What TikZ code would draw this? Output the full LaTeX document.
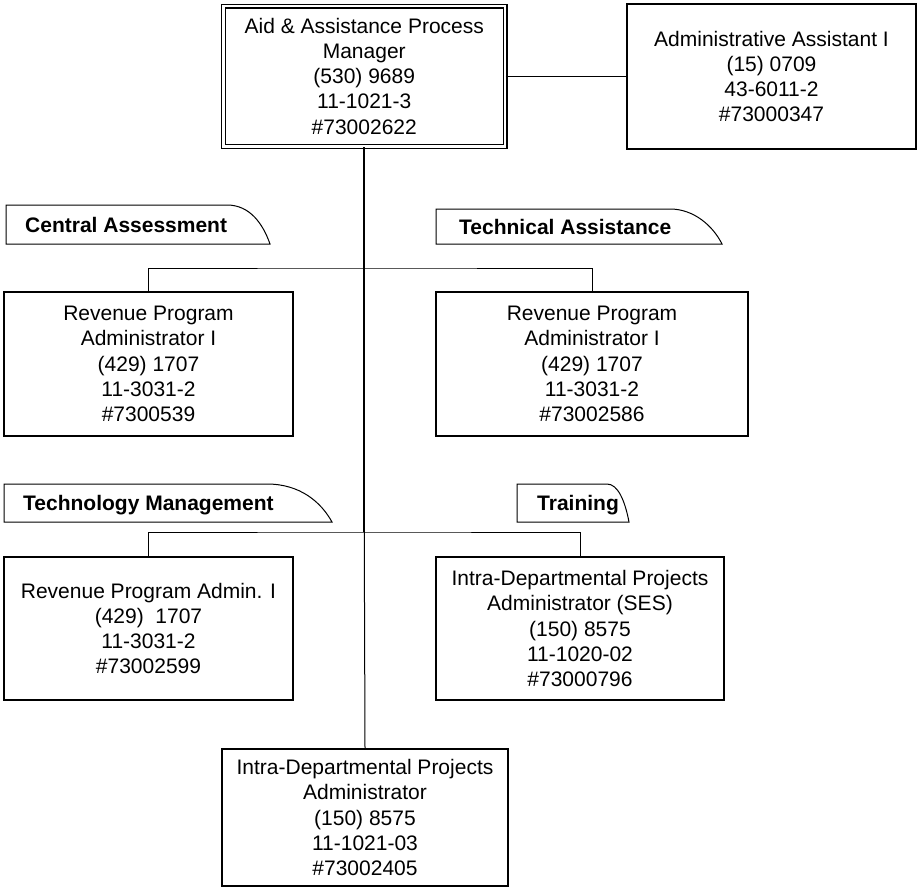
\documentclass[tikz,border=0pt]{standalone}
\usepackage{fontspec}
\setmainfont{Liberation Sans}
\begin{document}
\begin{tikzpicture}[x=1pt,y=-1pt,
  box/.style={draw, line width=1.3pt, inner sep=0pt, align=center,
    font=\fontsize{21}{25.2}\selectfont},
  tabshape/.style={draw, line width=1pt},
  tabtext/.style={anchor=base west, inner sep=0pt,
    font=\bfseries\fontsize{21}{25}\selectfont},
  link/.style={line width=1pt},
  spine/.style={line width=2pt}]
\useasboundingbox (0,0) rectangle (917,894);

% --- positions -------------------------------------------------------
\node[box, double, double distance=2.6pt, line width=1.2pt,
      minimum width=281.5pt, minimum height=140.5pt]
  (mgr) at (364.25,76.25)
  {Aid \& Assistance Process\\Manager\\(530) 9689\\11-1021-3\\\#73002622};
\node[box, minimum width=289pt, minimum height=145pt] (aa) at (771.5,76.5)
  {Administrative Assistant I\\(15) 0709\\43-6011-2\\\#73000347};

\node[box, minimum width=289pt, minimum height=144pt] (ca) at (148.5,364)
  {Revenue Program\\Administrator I\\(429) 1707\\11-3031-2\\\#7300539};
\node[box, minimum width=312pt, minimum height=144pt] (ta) at (592,364)
  {Revenue Program\\Administrator I\\(429) 1707\\11-3031-2\\\#73002586};

\node[box, minimum width=289pt, minimum height=143pt] (rpa) at (148.5,628.5)
  {Revenue Program Admin. I\\(429)\ \ 1707\\11-3031-2\\\#73002599};
\node[box, minimum width=288pt, minimum height=143pt] (ida) at (580,628.5)
  {Intra-Departmental Projects\\Administrator (SES)\\(150) 8575\\11-1020-02\\\#73000796};

\node[box, minimum width=286pt, minimum height=137pt] (ipa) at (365,817.5)
  {Intra-Departmental Projects\\Administrator\\(150) 8575\\11-1021-03\\\#73002405};

% --- section tabs ----------------------------------------------------
\draw[tabshape] (6,205) -- (227,205) .. controls (250,205) and (263,224) .. (270,244)
  -- (6,244) -- cycle;
\node[tabtext] (tca) at (25,232) {Central Assessment};

\draw[tabshape] (436,209) -- (670,209) .. controls (694,209) and (713,226) .. (722,244)
  -- (436,244) -- cycle;
\node[tabtext] (tta) at (459,234) {Technical Assistance};

\draw[tabshape] (4,484) -- (267,484) .. controls (300,484) and (321,502) .. (332,522)
  -- (4,522) -- cycle;
\node[tabtext] (ttm) at (23,510) {Technology Management};

\draw[tabshape] (517,484) -- (607,484) .. controls (618,484) and (625,501) .. (629,522)
  -- (517,522) -- cycle;
\node[tabtext] (ttr) at (537,510) {Training};

% --- connectors ------------------------------------------------------
\coordinate (j1) at (mgr.south |- 0,268);
\coordinate (j2) at (mgr.south |- 0,532);

\draw[link] (mgr.east) -- (mgr.east -| aa.west);
\draw[spine] (mgr.south) -- (j2);
\draw[link] (j2) -- (ipa.north);
\draw[link] (ca.north) |- (j1) -| (ta.north);
\draw[link] (rpa.north) |- (j2) -| (ida.north);
\end{tikzpicture}
\end{document}
